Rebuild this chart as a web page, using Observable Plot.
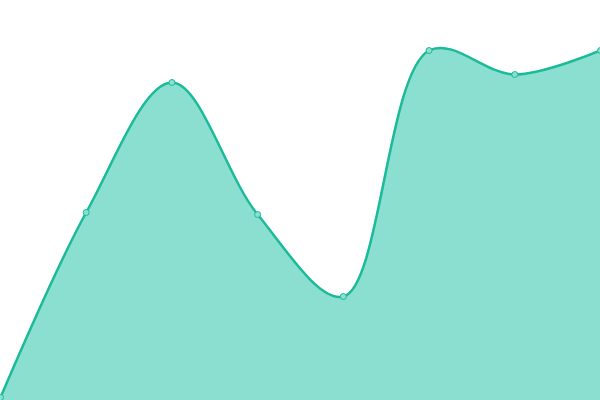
<!DOCTYPE html>
<html><head><meta charset="utf-8">
<script src="https://cdn.jsdelivr.net/npm/d3@7"></script>
<script src="https://cdn.jsdelivr.net/npm/@observablehq/plot@0.6"></script>
<style>body{margin:0;background:#fff}</style>
</head><body><div id="chart"></div>
<script>
const categories = [0, 1, 2, 3, 4, 5, 6, 7];
const values = [3, 188, 318, 186, 104, 350, 326, 350];
const data = categories.map((c, i) => ({x: c, y: values[i]}));
const chart = Plot.plot({
  width: 600, height: 400,
  margin: 0,
  x: {domain: [0, 7], axis: null},
  y: {domain: [0, 400], axis: null},
  marks: [
    Plot.areaY(data, {x: "x", y: "y", curve: "catmull-rom", fill: "#8adfd0"}),
    Plot.lineY(data, {x: "x", y: "y", curve: "catmull-rom", stroke: "#1bba98", strokeWidth: 2.5}),
    Plot.dot(data, {x: "x", y: "y", r: 3, fill: "#8adfd0", stroke: "#1bba98", strokeWidth: 1})
  ]
});
document.getElementById("chart").append(chart);
</script></body></html>
